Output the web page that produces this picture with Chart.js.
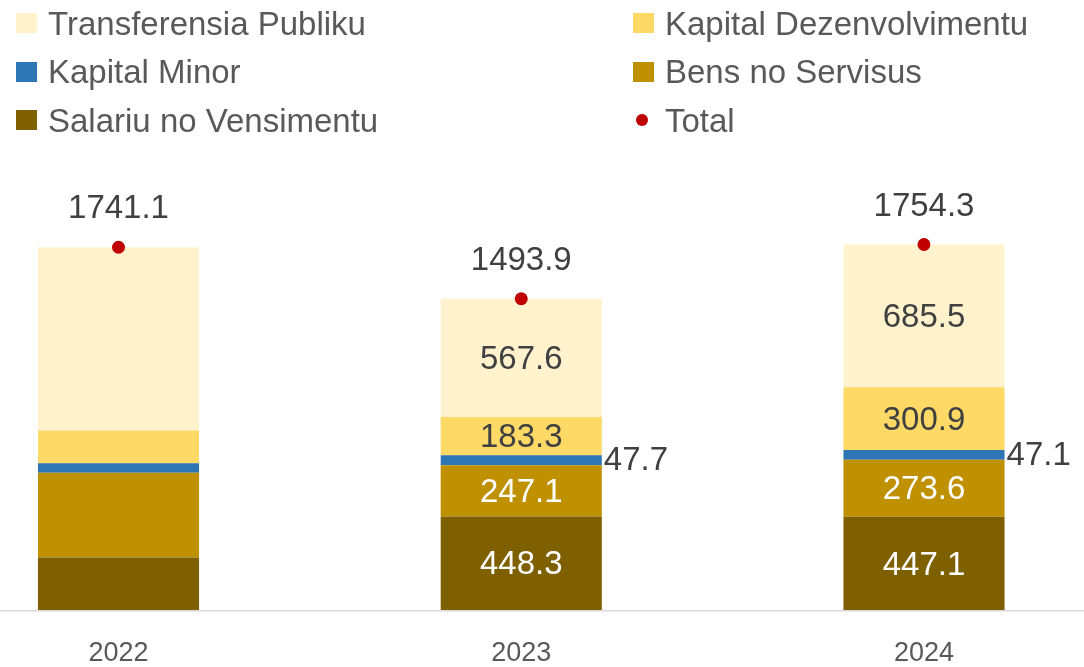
<!DOCTYPE html>
<html>
<head>
<meta charset="utf-8">
<script src="https://cdn.jsdelivr.net/npm/chart.js@4"></script>
<style>
  html, body { margin: 0; padding: 0; background: #fff; }
  #wrap { position: relative; width: 1084px; height: 667px; }
  #legend {
    position: absolute; left: 0; top: 0; width: 1084px; height: 150px;
    font-family: 'Liberation Sans', Arial, sans-serif; font-size: 33px; color: #595959;
  }
  .item { position: absolute; display: flex; align-items: center; height: 32px; line-height: 1; white-space: nowrap; }
  .box { width: 21px; height: 20px; margin-right: 11px; flex: none; }
  .dot { width: 21px; height: 20px; margin-right: 11px; flex: none; position: relative; }
  .dot::after { content: ''; position: absolute; left: 3px; top: 4px; width: 12px; height: 12px; border-radius: 50%; background: #C00000; }
</style>
</head>
<body>
<div id="wrap">
  <canvas id="chart" width="1084" height="667"></canvas>
  <div id="legend"></div>
</div>
<script>
// data
const years = ['2022', '2023', '2024'];
const salariu = [252, 448.3, 447.1];
const bens = [407, 247.1, 273.6];
const kapitalMinor = [46, 47.7, 47.1];
const kapitalDez = [156.5, 183.3, 300.9];
const transferensia = [879.6, 567.6, 685.5];
const total = [1741.1, 1493.9, 1754.3];
// segment values are only printed for these years
const showSegments = [false, true, true];

const labelColor = '#404040';

const barSets = [
    { label: 'Salariu no Vensimentu', data: salariu, color: '#7F6000', text: '#FFFFFF' },
    { label: 'Bens no Servisus', data: bens, color: '#BF9000', text: '#FFFFFF' },
    { label: 'Kapital Minor', data: kapitalMinor, color: '#2E75B6', text: labelColor, outside: true },
    { label: 'Kapital Dezenvolvimentu', data: kapitalDez, color: '#FFD966', text: labelColor },
    { label: 'Transferensia Publiku', data: transferensia, color: '#FFF2CC', text: labelColor }
];

const datasets = [{
    type: 'line',
    label: 'Total',
    data: total,
    stack: 'total',
    showLine: false,
    pointRadius: 6.5,
    pointHoverRadius: 6.5,
    pointBackgroundColor: '#C00000',
    pointBorderWidth: 0,
    order: -1
}];
barSets.forEach(s => {
    datasets.push({
        type: 'bar',
        label: s.label,
        data: s.data,
        stack: 'bars',
        backgroundColor: s.color,
        borderWidth: 0,
        categoryPercentage: 0.4,
        barPercentage: 1,
        clip: false,
        textColor: s.text,
        outside: !!s.outside
    });
});

// baseline across the full width, drawn under the bars
const baselinePlugin = {
    id: 'baseline',
    beforeDatasetsDraw(chart) {
        const y = chart.scales.y.getPixelForValue(0);
        const ctx = chart.ctx;
        ctx.save();
        ctx.strokeStyle = '#D9D9D9';
        ctx.lineWidth = 1.5;
        ctx.beginPath();
        ctx.moveTo(0, y + 0.75);
        ctx.lineTo(chart.width, y + 0.75);
        ctx.stroke();
        ctx.restore();
    }
};

// value labels on segments and above the total points
const valueLabels = {
    id: 'valueLabels',
    afterDatasetsDraw(chart) {
        const ctx = chart.ctx;
        ctx.save();
        ctx.font = '33px "Liberation Sans", Arial, sans-serif';
        ctx.textBaseline = 'middle';
        chart.data.datasets.forEach((ds, i) => {
            const meta = chart.getDatasetMeta(i);
            meta.data.forEach((el, j) => {
                const v = ds.data[j];
                if (ds.type === 'line') {
                    ctx.fillStyle = labelColor;
                    ctx.textAlign = 'center';
                    ctx.fillText(v.toFixed(1), el.x, el.y - 38);
                    return;
                }
                if (!showSegments[j]) return;
                const p = el.getProps(['x', 'y', 'base', 'width'], true);
                const cy = (p.y + p.base) / 2;
                ctx.fillStyle = ds.textColor;
                if (ds.outside) {
                    ctx.textAlign = 'left';
                    ctx.fillText(v.toFixed(1), p.x + p.width / 2 + 2, cy + 1);
                } else {
                    ctx.textAlign = 'center';
                    ctx.fillText(v.toFixed(1), p.x, cy + 2);
                }
            });
        });
        ctx.restore();
    }
};

new Chart(document.getElementById('chart').getContext('2d'), {
    data: { labels: years, datasets: datasets },
    options: {
        responsive: false,
        animation: false,
        layout: { padding: { top: 170, left: 118.5, right: 160, bottom: -30 } },
        scales: {
            x: {
                offset: false,
                stacked: true,
                grid: { display: false, drawTicks: false },
                border: { display: false },
                ticks: {
                    padding: 30,
                    color: '#595959',
                    font: { family: "'Liberation Sans', Arial, sans-serif", size: 27, lineHeight: 1 }
                }
            },
            y: {
                display: false,
                stacked: true,
                min: 0,
                max: 2112
            }
        },
        plugins: {
            legend: { display: false },
            tooltip: { enabled: false }
        }
    },
    plugins: [baselinePlugin, valueLabels]
});

// legend: two columns, same order as the reference
const legendOrder = [barSets[4], barSets[3], barSets[2], barSets[1], barSets[0], { label: 'Total', dot: true }];
const colX = [16, 633];
const rowTop = [7, 55.5, 104];
const legendEl = document.getElementById('legend');
legendOrder.forEach((s, k) => {
    const item = document.createElement('div');
    item.className = 'item';
    item.style.left = colX[k % 2] + 'px';
    item.style.top = rowTop[Math.floor(k / 2)] + 'px';
    const mark = document.createElement('span');
    if (s.dot) {
        mark.className = 'dot';
    } else {
        mark.className = 'box';
        mark.style.background = s.color;
    }
    item.appendChild(mark);
    item.appendChild(document.createTextNode(s.label));
    legendEl.appendChild(item);
});
</script>
</body>
</html>
